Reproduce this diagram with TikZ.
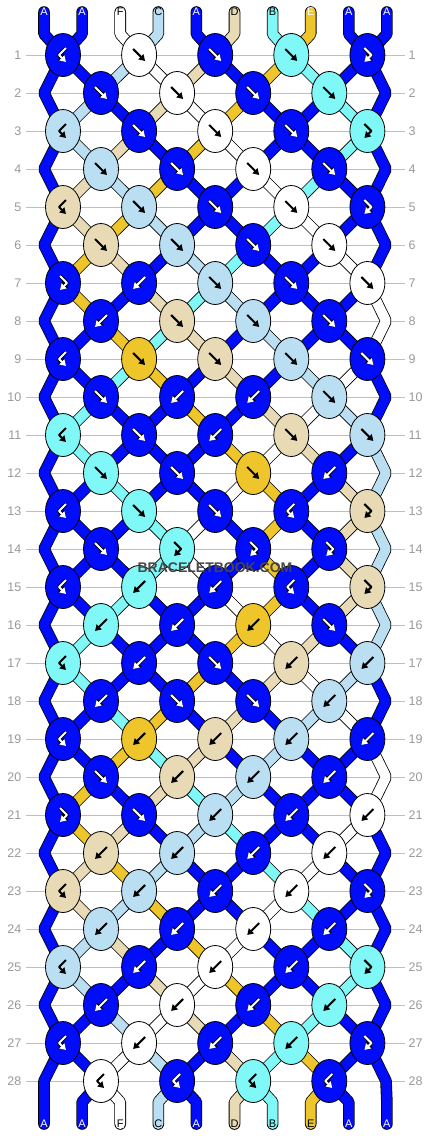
\documentclass[tikz,border=0pt]{standalone}
\usepackage{fontspec}
\setmainfont{Liberation Sans}
\usetikzlibrary{arrows.meta,shapes.geometric}
\definecolor{colA}{RGB}{0,12,250}
\definecolor{colB}{RGB}{128,248,248}
\definecolor{colC}{RGB}{186,222,242}
\definecolor{colD}{RGB}{232,218,181}
\definecolor{colE}{RGB}{238,197,42}
\definecolor{colF}{RGB}{255,255,255}
\colorlet{inkA}{white}\colorlet{rimA}{black}
\colorlet{inkB}{black}\colorlet{rimB}{colB}
\colorlet{inkC}{black}\colorlet{rimC}{colC}
\colorlet{inkD}{black}\colorlet{rimD}{colD}
\colorlet{inkE}{black}\colorlet{rimE}{colE}
\colorlet{inkF}{black}\colorlet{rimF}{colF}
\colorlet{ink}{black}\colorlet{rim}{white}
\tikzset{
	knot/.style={
		shape = ellipse,
		draw,
		line width = 0.8pt,
		fill = #1,
		minimum width = 35pt,
		minimum height = 43pt,
		inner sep = 0pt
	},
	strand/.style={
		draw = black,
		line width = 0.8pt,
		double = #1,
		double distance = 10pt,
		line join = bevel
	},
	rowline/.style={draw = black!25, line width = 0.8pt},
	rowno/.style={text = black!40, font = \fontsize{12.5}{12.5}\selectfont, inner sep = 0pt},
	endlabel/.style={font = \fontsize{11}{11}\selectfont, inner sep = 0pt},
	rimline/.style={draw = rim, line width = 3.6pt, line join = round, -{Triangle[length=7.5pt,width=9pt]}},
	inkline/.style={draw = ink, line width = 2pt, line join = round, -{Triangle[length=6pt,width=7pt]}},
	gf/.pic={
		\draw[rimline] (-6,-6) -- (6,6);
		\draw[inkline] (-6,-6) -- (6,6);
	},
	gb/.pic={
		\draw[rimline] (6,-6) -- (-6,6);
		\draw[inkline] (6,-6) -- (-6,6);
	},
	gfb/.pic={
		\draw[rimline] (-3,-7) -- (4,0) -- (-3,7);
		\draw[inkline] (-3,-7) -- (4,0) -- (-3,7);
	},
	gbf/.pic={
		\draw[rimline] (3,-7) -- (-4,0) -- (3,7);
		\draw[inkline] (3,-7) -- (-4,0) -- (3,7);
	},
}

\begin{document}
\begin{tikzpicture}[x=1pt, y=-1pt]
    \path[fill=white, use as bounding box] (0,0) rectangle (430,1136);
    % string ends and knot places
    \foreach \p in {1,...,10}{
      \pgfmathsetmacro\x{44+38.1*(\p-1)}
      \coordinate (t-\p) at (\x,12);
      \coordinate (u-\p) at (\x,34);
      \coordinate (v-\p) at (\x,1102);
      \coordinate (w-\p) at (\x,1124);
    }
    \foreach \r in {1,...,28}{
      \pgfmathsetmacro\y{55+38*(\r-1)}
      \foreach \p in {1,...,10}{
        \pgfmathsetmacro\x{mod(\r,2)==1 ? 63+76.1*int((\p-1)/2) : (\p==1 ? 44 : (\p==10 ? 386 : 101+76.1*int((\p-2)/2)))}
        \coordinate (s-\r-\p) at (\x,\y);
      }
      \node[rowno, anchor=east] (l-\r) at (21.5,\y) {\r};
      \node[rowno, anchor=west] (rn-\r) at (408.5,\y) {\r};
      \draw[rowline, shorten <=4pt, shorten >=4pt] (l-\r.east) -- (rn-\r.west);
    }
    % strings
    \foreach \c [count=\p] in {A,A,F,C,A,D,B,E,A,A}
      \draw[strand=col\c, line cap=round] (t-\p) -- (u-\p) -- (s-1-\p);
    \foreach \r/\st in {
      1/{A,C,F,D,A,E,B,A}, 2/{C,A,D,F,E,A,A,B}, 3/{C,D,A,E,F,A,A,B},
      4/{D,C,E,A,A,F,B,A}, 5/{D,E,C,A,A,B,F,A}, 6/{E,D,A,C,B,A,A,F},
      7/{E,A,D,B,C,A,A,A}, 8/{A,E,B,D,A,C,A,A}, 9/{A,B,E,A,D,A,C,F},
      10/{B,A,A,E,A,D,F,C}, 11/{B,A,A,A,E,F,D,A}, 12/{A,B,A,A,F,E,A,D},
      13/{A,A,B,F,A,E,A,D}, 14/{A,A,B,F,A,E,A,D}, 15/{A,B,A,A,F,E,A,D},
      16/{B,A,A,A,E,F,D,A}, 17/{B,A,A,E,A,D,F,C}, 18/{A,B,E,A,D,A,C,F},
      19/{A,E,B,D,A,C,A,A}, 20/{E,A,D,B,C,A,A,A}, 21/{E,D,A,C,B,A,A,F},
      22/{D,E,C,A,A,B,F,A}, 23/{D,C,E,A,A,F,B,A}, 24/{C,D,A,E,F,A,A,B},
      25/{C,A,D,F,E,A,A,B}, 26/{A,C,F,D,A,E,B,A}, 27/{A,F,C,A,D,B,E,A}}{
      \pgfmathtruncatemacro\rr{\r+1}
      \foreach \c [count=\p from 2] in \st
        \draw[strand=col\c] (s-\r-\p) -- (s-\rr-\p);
    }
    \foreach \r/\c in {1/A,3/A,5/A,7/F,9/A,11/C,13/C,15/C,17/A,19/F,21/A,23/A,25/A}{
      \pgfmathtruncatemacro\rr{\r+1}
      \pgfmathtruncatemacro\rrr{\r+2}
      \draw[strand=colA] (s-\r-1) -- (s-\rr-1) -- (s-\rrr-1);
      \draw[strand=col\c] (s-\r-10) -- (s-\rr-10) -- (s-\rrr-10);
    }
    \draw[strand=colA, line cap=round] (s-27-1) -- (s-28-1) -- (v-1) -- (w-1);
    \draw[strand=colA, line cap=round] (s-27-10) -- (s-28-10) -- (v-10) -- (w-10);
    \foreach \c [count=\p from 2] in {A,F,C,A,D,B,E,A}
      \draw[strand=col\c, line cap=round] (s-28-\p) -- (v-\p) -- (w-\p);
    % knots
    \foreach \r/\row in {
      1/{A/bf,F/f,A/f,B/f,A/fb}, 2/{A/f,F/f,A/f,B/f},
      3/{C/bf,A/f,F/f,A/f,B/fb}, 4/{C/f,A/f,F/f,A/f},
      5/{D/bf,C/f,A/f,F/f,A/fb}, 6/{D/f,C/f,A/f,F/f},
      7/{A/fb,A/b,C/f,A/f,F/f}, 8/{A/b,D/f,C/f,A/f},
      9/{A/bf,E/f,D/f,C/f,A/f}, 10/{A/f,A/b,A/b,C/f},
      11/{B/bf,A/f,A/b,D/f,C/f}, 12/{B/f,A/f,E/f,A/b},
      13/{A/bf,B/f,A/f,A/bf,D/fb}, 14/{A/f,B/fb,A/fb,A/fb},
      15/{A/bf,B/b,A/b,A/bf,D/fb}, 16/{B/b,A/b,E/b,A/f},
      17/{B/bf,A/b,A/f,D/b,C/b}, 18/{A/b,A/f,A/f,C/b},
      19/{A/bf,E/b,D/b,C/b,A/b}, 20/{A/f,D/b,C/b,A/b},
      21/{A/fb,A/f,C/b,A/b,F/b}, 22/{D/b,C/b,A/b,F/b},
      23/{D/bf,C/b,A/b,F/b,A/fb}, 24/{C/b,A/b,F/b,A/b},
      25/{C/bf,A/b,F/b,A/b,B/fb}, 26/{A/b,F/b,A/b,B/b},
      27/{A/bf,F/b,A/b,B/b,A/fb}, 28/{F/bf,A/bf,B/bf,A/bf}}{
      \foreach \c/\t [count=\k] in \row {
        \pgfmathtruncatemacro\p{2*\k-mod(\r,2)}
        \colorlet{ink}{ink\c}\colorlet{rim}{rim\c}
        \node[knot=col\c] (k-\r-\k) at (s-\r-\p) {};
        \pic at (k-\r-\k) {g\t};
      }
    }
    % labels
    \foreach \c/\tc [count=\p] in {A/white,A/white,F/black,C/black,A/white,D/black,B/black,E/white,A/white,A/white}
      \node[endlabel, text=\tc] (top-\p) at (t-\p) {\c};
    \foreach \c/\tc [count=\p] in {A/white,A/white,F/black,C/black,A/white,D/black,B/black,E/black,A/white,A/white}
      \node[endlabel, text=\tc] (bot-\p) at (w-\p) {\c};
    \node[font=\bfseries\fontsize{14}{14}\selectfont, text=black!72, inner sep=0pt] (mark) at (215,568) {BRACELETBOOK.COM};
  \end{tikzpicture}
\end{document}
